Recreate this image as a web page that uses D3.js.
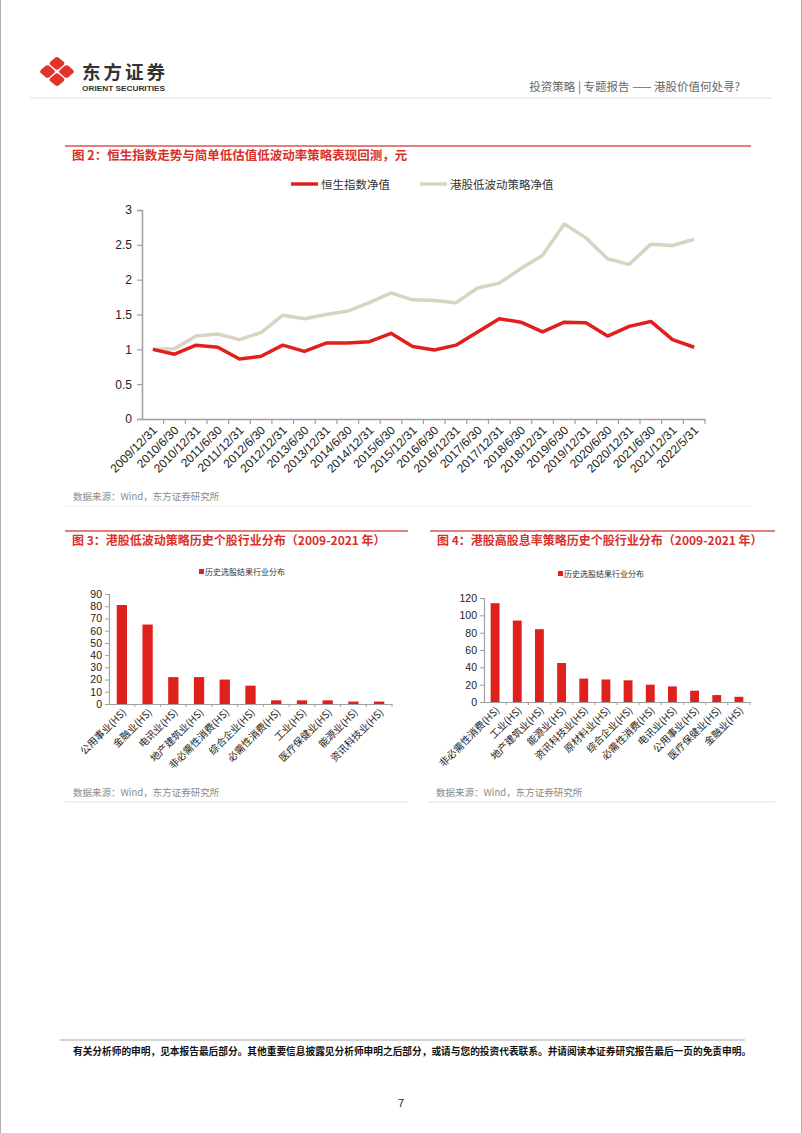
<!DOCTYPE html>
<html>
<head>
<meta charset="utf-8">
<script src="https://cdn.jsdelivr.net/npm/d3@7"></script>
<style>
  body { margin: 0; background: #fff; }
  text { font-family: "Liberation Sans", "Noto Sans CJK SC", sans-serif; }
  .cjk { font-family: "Noto Sans CJK SC", "Liberation Sans", sans-serif; }
</style>
</head>
<body>
<div id="page"></div>
<script>
// ---- data ----
var dates = ["2009/12/31","2010/6/30","2010/12/31","2011/6/30","2011/12/31","2012/6/30","2012/12/31",
  "2013/6/30","2013/12/31","2014/6/30","2014/12/31","2015/6/30","2015/12/31","2016/6/30","2016/12/31",
  "2017/6/30","2017/12/31","2018/6/30","2018/12/31","2019/6/30","2019/12/31","2020/6/30","2020/12/31",
  "2021/6/30","2021/12/31","2022/5/31"];
var hsiValues = [1.00,0.93,1.06,1.03,0.86,0.90,1.06,0.97,1.09,1.09,1.11,1.23,1.04,0.99,1.06,
  1.25,1.44,1.39,1.25,1.39,1.38,1.19,1.33,1.40,1.14,1.03];
var lowVolValues = [1.00,1.01,1.19,1.22,1.14,1.24,1.49,1.44,1.50,1.55,1.67,1.81,1.71,1.70,1.67,
  1.88,1.95,2.16,2.35,2.80,2.60,2.30,2.22,2.51,2.49,2.58];
var lineTicks = [0, 0.5, 1, 1.5, 2, 2.5, 3];
var seriesNames = ["恒生指数净值", "港股低波动策略净值"];

var fig3Categories = ["公用事业(HS)","金融业(HS)","电讯业(HS)","地产建筑业(HS)","非必需性消费(HS)",
  "综合企业(HS)","必需性消费(HS)","工业(HS)","医疗保健业(HS)","能源业(HS)","资讯科技业(HS)"];
var fig3Values = [81, 65, 22, 22, 20, 15, 3, 3, 3, 2, 2];
var fig3Ticks = [0, 10, 20, 30, 40, 50, 60, 70, 80, 90];

var fig4Categories = ["非必需性消费(HS)","工业(HS)","地产建筑业(HS)","能源业(HS)","资讯科技业(HS)",
  "原材料业(HS)","综合企业(HS)","必需性消费(HS)","电讯业(HS)","公用事业(HS)","医疗保健业(HS)","金融业(HS)"];
var fig4Values = [114, 94, 84, 45, 27, 26, 25, 20, 18, 13, 8, 6];
var fig4Ticks = [0, 20, 40, 60, 80, 100, 120];

var barLegend = "历史选股结果行业分布";
var sourceText = "数据来源：Wind，东方证券研究所";

var RED = "#e0201c", BEIGE = "#d9d3c1", TITLE_RED = "#d9302b", AXIS = "#a0a0a0";

var svg = d3.select("#page").append("svg")
  .attr("width", 802).attr("height", 1133);
svg.append("rect").attr("width", 802).attr("height", 1133).attr("fill", "#fff");

// page edges
svg.append("line").attr("x1", 0.5).attr("x2", 0.5).attr("y1", 0).attr("y2", 1133).attr("stroke", "#b0b0b0");
svg.append("line").attr("x1", 801.5).attr("x2", 801.5).attr("y1", 0).attr("y2", 1133).attr("stroke", "#b0b0b0");

// ---- header ----
var logo = svg.append("g").attr("transform", "translate(57,71.5) scale(1,0.85)");
[[0,-9.5],[-9.5,0],[9.5,0],[0,9.5]].forEach(function(p) {
  logo.append("rect")
    .attr("x", -6).attr("y", -6).attr("width", 12).attr("height", 12)
    .attr("rx", 3)
    .attr("fill", "#e0332c")
    .attr("transform", "translate(" + p[0] + "," + p[1] + ") rotate(45)");
});
svg.append("text").attr("class", "cjk")
  .attr("x", 82).attr("y", 79)
  .style("font-size", "18.5px").style("font-weight", "bold").attr("fill", "#333")
  .attr("textLength", 83)
  .text("东方证券");
svg.append("text")
  .attr("x", 82).attr("y", 91)
  .style("font-size", "7.5px").style("font-weight", "bold").attr("fill", "#333")
  .attr("textLength", 83).attr("lengthAdjust", "spacingAndGlyphs")
  .text("ORIENT SECURITIES");
svg.append("text").attr("class", "cjk")
  .attr("x", 740).attr("y", 91)
  .attr("text-anchor", "end")
  .style("font-size", "11.5px").attr("fill", "#666")
  .text("投资策略 | 专题报告 —— 港股价值何处寻?");
svg.append("line")
  .attr("x1", 30).attr("x2", 772).attr("y1", 98).attr("y2", 98)
  .attr("stroke", "#e2e2e2").attr("stroke-width", 1.2);

// ---- figure titles ----
function figTitle(x1, x2, y, label, size) {
  svg.append("line")
    .attr("x1", x1).attr("x2", x2).attr("y1", y).attr("y2", y)
    .attr("stroke", "#d9534f").attr("stroke-width", 1.3);
  svg.append("text").attr("class", "cjk")
    .attr("x", x1 + 7).attr("y", y + 14)
    .style("font-size", size + "px").style("font-weight", "bold").attr("fill", TITLE_RED)
    .text(label);
}
function source(x, y, x2, lineColor) {
  svg.append("text").attr("class", "cjk")
    .attr("x", x).attr("y", y)
    .style("font-size", "9.5px").attr("fill", "#8a8a8a")
    .text(sourceText);
  svg.append("line")
    .attr("x1", x - 8).attr("x2", x2).attr("y1", y + 6).attr("y2", y + 6)
    .attr("stroke", lineColor).attr("stroke-width", 1);
}

figTitle(65, 751, 146, "图 2：恒生指数走势与简单低估值低波动率策略表现回测，元", 12.5);
figTitle(65, 408, 531, "图 3：港股低波动策略历史个股行业分布（2009-2021 年）", 12);
figTitle(430, 775, 531, "图 4：港股高股息率策略历史个股行业分布（2009-2021 年）", 12);

// ---- figure 2: line chart ----
var x2 = d3.scaleBand().domain(dates).range([142, 705]);
var y2 = d3.scaleLinear().domain([0, 3]).range([419, 210]);

var gx = svg.append("g").attr("transform", "translate(0,419)")
  .call(d3.axisBottom(x2).tickSize(0).tickFormat(""));
gx.select(".domain").attr("stroke", AXIS).attr("stroke-width", 1.5);
svg.append("g").selectAll("line")
  .data(dates)
  .enter().append("line")
  .attr("x1", function(d) { return x2(d) + x2.bandwidth(); })
  .attr("x2", function(d) { return x2(d) + x2.bandwidth(); })
  .attr("y1", 419).attr("y2", 424)
  .attr("stroke", AXIS).attr("stroke-width", 1.2);
svg.append("g").selectAll("text")
  .data(dates)
  .enter().append("text")
  .attr("text-anchor", "end")
  .attr("transform", function(d) {
    return "translate(" + (x2(d) + x2.bandwidth() / 2 + 5) + ",431) rotate(-45)";
  })
  .style("font-size", "12px").attr("fill", "#222")
  .text(function(d) { return d; });

var gy = svg.append("g").attr("transform", "translate(142,0)")
  .call(d3.axisLeft(y2).tickValues(lineTicks).tickSize(5).tickPadding(5)
    .tickFormat(function(d) { return d3.format("")(d); }));
gy.select(".domain").attr("stroke", AXIS).attr("stroke-width", 1.5);
gy.selectAll(".tick line").attr("stroke", AXIS).attr("stroke-width", 1.2);
gy.selectAll(".tick text").style("font-size", "12px").attr("fill", "#222")
  .style("font-family", "Liberation Sans");

var line = d3.line()
  .x(function(d, i) { return x2(dates[i]) + x2.bandwidth() / 2; })
  .y(function(d) { return y2(d); });

svg.append("path").datum(lowVolValues)
  .attr("fill", "none").attr("stroke", BEIGE).attr("stroke-width", 3.5)
  .attr("stroke-linejoin", "round").attr("d", line);
svg.append("path").datum(hsiValues)
  .attr("fill", "none").attr("stroke", RED).attr("stroke-width", 3.5)
  .attr("stroke-linejoin", "round").attr("d", line);

// legend
var legendItems = [
  { name: seriesNames[0], color: RED, x: 291 },
  { name: seriesNames[1], color: BEIGE, x: 420 }
];
legendItems.forEach(function(l) {
  svg.append("line")
    .attr("x1", l.x).attr("x2", l.x + 27).attr("y1", 184).attr("y2", 184)
    .attr("stroke", l.color).attr("stroke-width", 3.5);
  svg.append("text").attr("class", "cjk")
    .attr("x", l.x + 30).attr("y", 188.5)
    .style("font-size", "11.5px").attr("fill", "#333")
    .text(l.name);
});

source(73, 500, 750, "#ededed");

// ---- bar charts ----
function barChart(opt) {
  var x = d3.scaleBand().domain(opt.categories).range([opt.x0, opt.x1]).paddingInner(0.6).paddingOuter(0.3);
  var y = d3.scaleLinear().domain([0, opt.max]).range([opt.yBottom, opt.yTop]);

  var ga = svg.append("g").attr("transform", "translate(0," + opt.yBottom + ")")
    .call(d3.axisBottom(x).tickSize(0).tickFormat(""));
  ga.select(".domain").attr("stroke", AXIS).attr("stroke-width", 1.2);

  var step = (opt.x1 - opt.x0) / opt.categories.length;
  svg.append("g").selectAll("line")
    .data(opt.categories)
    .enter().append("line")
    .attr("x1", function(d, i) { return opt.x0 + step * (i + 1); })
    .attr("x2", function(d, i) { return opt.x0 + step * (i + 1); })
    .attr("y1", opt.yBottom).attr("y2", opt.yBottom + 3)
    .attr("stroke", AXIS);

  var gl = svg.append("g").attr("transform", "translate(" + opt.x0 + ",0)")
    .call(d3.axisLeft(y).tickValues(opt.ticks).tickSize(4).tickPadding(3));
  gl.select(".domain").attr("stroke", AXIS).attr("stroke-width", 1.2);
  gl.selectAll(".tick line").attr("stroke", AXIS);
  gl.selectAll(".tick text").style("font-size", "10.5px").attr("fill", "#222")
    .style("font-family", "Liberation Sans");

  svg.append("g").selectAll("rect")
    .data(opt.values)
    .enter().append("rect")
    .attr("x", function(d, i) { return x(opt.categories[i]); })
    .attr("y", function(d) { return y(d); })
    .attr("width", x.bandwidth())
    .attr("height", function(d) { return opt.yBottom - y(d); })
    .attr("fill", RED);

  svg.append("g").selectAll("text")
    .data(opt.categories)
    .enter().append("text").attr("class", "cjk")
    .attr("text-anchor", "end")
    .attr("transform", function(d) {
      return "translate(" + (x(d) + x.bandwidth() / 2 + 5) + "," + (opt.yBottom + 9) + ") rotate(-45)";
    })
    .style("font-size", "10px").attr("fill", "#222")
    .text(function(d) { return d; });

  svg.append("rect")
    .attr("x", opt.legendX).attr("y", opt.legendY - 6)
    .attr("width", 5).attr("height", 5).attr("fill", RED);
  svg.append("text").attr("class", "cjk")
    .attr("x", opt.legendX + 6).attr("y", opt.legendY)
    .style("font-size", "8px").attr("fill", "#333")
    .text(barLegend);
}

barChart({ categories: fig3Categories, values: fig3Values, ticks: fig3Ticks, max: 90,
  x0: 109, x1: 392, yBottom: 704, yTop: 594, legendX: 199, legendY: 575 });
barChart({ categories: fig4Categories, values: fig4Values, ticks: fig4Ticks, max: 120,
  x0: 484, x1: 750, yBottom: 702, yTop: 598, legendX: 558, legendY: 577 });

source(73, 796, 408, "#f3d9d9");
source(436, 796, 775, "#f3d9d9");

// ---- footer ----
svg.append("line")
  .attr("x1", 60).attr("x2", 745).attr("y1", 1040).attr("y2", 1040)
  .attr("stroke", "#aaa").attr("stroke-width", 1.2);
svg.append("text").attr("class", "cjk")
  .attr("x", 73).attr("y", 1055)
  .style("font-size", "9.7px").style("font-weight", "bold").attr("fill", "#111")
  .text("有关分析师的申明，见本报告最后部分。其他重要信息披露见分析师申明之后部分，或请与您的投资代表联系。并请阅读本证券研究报告最后一页的免责申明。");
svg.append("text")
  .attr("x", 401).attr("y", 1107).attr("text-anchor", "middle")
  .style("font-size", "11px").attr("fill", "#222")
  .text("7");
</script>
</body>
</html>
